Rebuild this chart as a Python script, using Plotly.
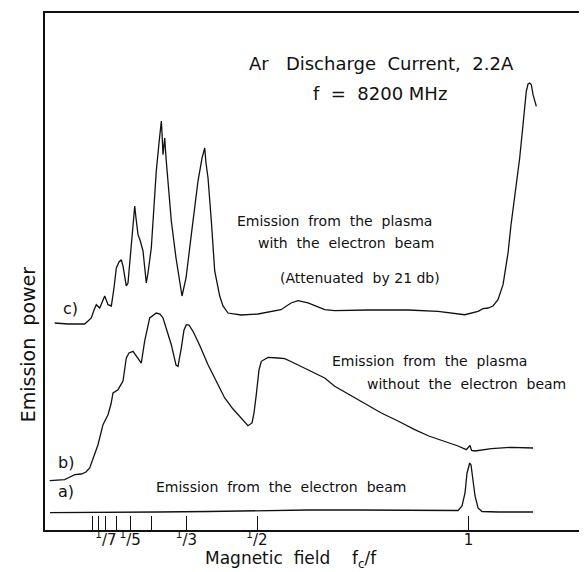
import plotly.graph_objects as go

# ---------------- data (fc/f , emission power in arbitrary units) ----------------
# a) emission from the electron beam
a_x = [0.0106, 0.1478, 0.2660, 0.3842, 0.5024, 0.6206, 0.7388, 0.8570, 0.9515, 0.9752,
       0.9846, 0.9917, 0.9965, 1.0028, 1.0059, 1.0106, 1.0154, 1.0225, 1.0319, 1.0697, 1.1525]
a_y = [3.38, 3.38, 3.48, 3.58, 3.77, 3.87, 3.87, 3.77, 3.68, 3.77,
       4.64, 7.16, 11.03, 12.96, 12.57, 10.06, 6.58, 4.26, 3.58, 3.48, 3.48]

# b) emission from the plasma without the electron beam
b_x = [0.0099, 0.0454, 0.0579, 0.0690, 0.0846, 0.0957, 0.1045, 0.1163, 0.1241, 0.1359,
       0.1478, 0.1548, 0.1596, 0.1714, 0.1832, 0.1910, 0.1974, 0.2069, 0.2187, 0.2265,
       0.2345, 0.2463, 0.2619, 0.2707, 0.2778, 0.2896, 0.2974, 0.3085, 0.3132, 0.3210,
       0.3274, 0.3329, 0.3392, 0.3487, 0.3652, 0.3842, 0.4031, 0.4236, 0.4433, 0.4629,
       0.4787, 0.4882, 0.4929, 0.4983, 0.5047, 0.5102, 0.5260, 0.5496, 0.5655, 0.5875,
       0.6128, 0.6600, 0.6837, 0.7388, 0.7939, 0.8333, 0.8728, 0.9061, 0.9357, 0.9752,
       0.9948, 1.0012, 1.0035, 1.0071, 1.0154, 1.0539, 1.1012, 1.1525]
b_y = [9.54, 9.73, 10.25, 10.70, 10.83, 11.22, 11.99, 14.56, 16.50, 20.37,
       22.30, 24.37, 26.50, 27.14, 28.82, 33.27, 34.24, 34.56, 33.27, 32.30,
       36.56, 41.01, 41.97, 41.78, 41.01, 38.10, 35.84, 31.91, 31.66, 35.20,
       38.68, 39.71, 39.65, 38.43, 35.59, 31.97, 28.82, 25.53, 23.40, 21.66,
       20.17, 20.70, 22.63, 26.17, 30.95, 32.63, 33.40, 33.27, 33.13, 32.30,
       31.33, 29.40, 27.79, 25.20, 22.63, 21.08, 19.40, 18.18, 17.41, 16.25,
       15.53, 16.25, 16.34, 15.38, 15.28, 15.73, 16.00, 15.86]

# c) emission from the plasma with the electron beam (attenuated by 21 db)
c_x = [0.0217, 0.0532, 0.0927, 0.1083, 0.1147, 0.1201, 0.1281, 0.1336, 0.1400, 0.1478,
       0.1556, 0.1619, 0.1674, 0.1738, 0.1792, 0.1832, 0.1910, 0.1950, 0.2028, 0.2109,
       0.2139, 0.2187, 0.2234, 0.2305, 0.2383, 0.2423, 0.2501, 0.2619, 0.2683, 0.2738,
       0.2754, 0.2778, 0.2818, 0.2849, 0.2974, 0.3085, 0.3227, 0.3322, 0.3447, 0.3605,
       0.3700, 0.3764, 0.3794, 0.3842, 0.3920, 0.4000, 0.4118, 0.4196, 0.4314, 0.4622,
       0.5024, 0.5567, 0.5804, 0.5969, 0.6206, 0.6600, 0.6837, 0.7624, 0.8570, 0.9279,
       0.9910, 1.0225, 1.0343, 1.0461, 1.0579, 1.0697, 1.0816, 1.0856, 1.0934, 1.1005,
       1.1123, 1.1210, 1.1288, 1.1366, 1.1407, 1.1447, 1.1485, 1.1525, 1.1603]
c_y = [40.04, 39.85, 39.85, 41.01, 42.55, 43.58, 42.94, 44.10, 45.26, 43.58,
       43.33, 46.81, 50.68, 51.84, 52.28, 51.06, 47.20, 47.78, 55.90, 62.67,
       60.35, 57.12, 56.09, 53.97, 47.78, 49.71, 54.55, 69.44, 74.85, 79.11,
       76.79, 72.59, 75.82, 71.95, 59.77, 52.61, 45.26, 48.74, 57.12, 67.50,
       71.95, 73.89, 70.99, 68.09, 59.77, 50.10, 45.26, 43.33, 41.97, 41.59,
       41.78, 42.61, 43.91, 44.35, 43.91, 42.61, 42.42, 42.55, 42.55, 42.30,
       41.64, 42.30, 42.80, 42.94, 43.33, 44.55, 47.45, 49.38, 53.58, 59.05,
       66.15, 71.95, 78.39, 84.85, 86.27, 86.46, 86.13, 84.20, 81.95]

tick_vals = [1/9, 1/8, 1/7, 1/6, 1/5, 1/4, 1/3, 1/2, 1]
tick_text = ["", "", "<sup>1</sup>/7", "", "<sup>1</sup>/5", "", "<sup>1</sup>/3", "<sup>1</sup>/2", "1"]

FONT = "DejaVu Sans"
INK = "#111111"

fig = go.Figure()
for xs, ys in [(a_x, a_y), (b_x, b_y), (c_x, c_y)]:
    fig.add_trace(go.Scatter(x=xs, y=ys, mode="lines",
                             line=dict(color=INK, width=1.3),
                             hoverinfo="skip", showlegend=False))

def note(text, x, y, size=14, anchor="left", xref="x", yref="y", angle=0):
    fig.add_annotation(text=text, x=x, y=y, xref=xref, yref=yref, showarrow=False,
                       xanchor=anchor, yanchor="middle", textangle=angle,
                       font=dict(family=FONT, size=size, color=INK))

note("Ar&nbsp;&nbsp; Discharge&nbsp; Current,&nbsp; 2.2A", 1.1123, 90.3, size=18, anchor="right")
note("f&nbsp; =&nbsp; 8200 MHz", 0.6277, 84.5, size=18)
note("Emission&nbsp; from&nbsp; the&nbsp; plasma", 0.4473, 59.8)
note("with&nbsp; the&nbsp; electron&nbsp; beam", 0.4976, 55.5)
note("(Attenuated&nbsp; by 21 db)", 0.5496, 48.7)
note("Emission&nbsp; from&nbsp; the&nbsp; plasma", 0.6719, 32.6)
note("without&nbsp; the&nbsp; electron&nbsp; beam", 0.7546, 28.3)
note("Emission&nbsp; from&nbsp; the&nbsp; electron&nbsp; beam", 0.2553, 8.3)
note("c)", 0.0366, 42.8, size=16)
note("b)", 0.0248, 13.0, size=16)
note("a)", 0.0248, 7.5, size=16)
note("Emission&nbsp; power", -0.032, 0.36, size=19, anchor="center",
     xref="paper", yref="paper", angle=-90)
note("Magnetic&nbsp; field&nbsp;&nbsp;&nbsp; f<sub>c</sub>/f", 0.3716, -0.058, size=17,
     yref="paper")

fig.update_layout(
    width=587, height=572,
    margin=dict(l=37, r=0, t=5, b=50),
    paper_bgcolor="white", plot_bgcolor="white",
    font=dict(family=FONT, color=INK),
    xaxis=dict(range=[-0.0012, 1.299], showline=True, mirror=True, linecolor=INK,
               linewidth=1.5, ticks="inside", ticklen=14, tickwidth=1.2, tickcolor=INK,
               tickvals=tick_vals, ticktext=tick_text, showgrid=False, zeroline=False,
               tickfont=dict(family=FONT, size=15, color=INK), ticklabelstandoff=-5),
    yaxis=dict(range=[0, 100], showline=True, linecolor=INK, linewidth=1.5,
               showticklabels=False, ticks="", showgrid=False, zeroline=False),
)

fig.write_html("out.html")
